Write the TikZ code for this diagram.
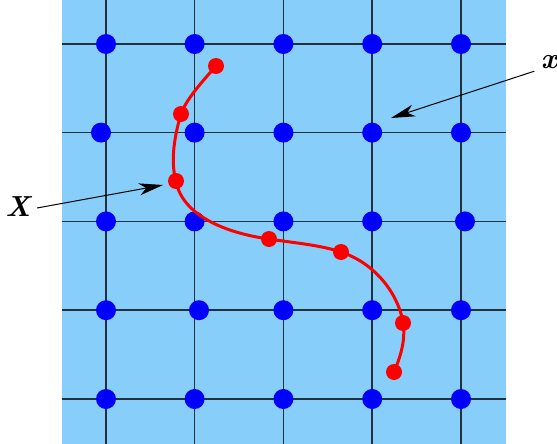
\documentclass[tikz,border=0pt]{standalone}
\usetikzlibrary{arrows.meta}
\definecolor{sky}{HTML}{87CEFA}
\definecolor{gridc}{HTML}{22313D}
\begin{document}
\begin{tikzpicture}[x=1pt,y=-1pt,
  gridline/.style={draw=gridc,line width=1.5pt},
  bdot/.style={circle,fill=blue,inner sep=0pt,minimum size=20pt},
  rdot/.style={circle,fill=red,inner sep=0pt,minimum size=16pt},
  curve/.style={draw=red,line width=3pt},
  lbl/.style={font=\fontsize{29}{29}\selectfont\bfseries\itshape},
  pointer/.style={draw=black,line width=1pt,-{Stealth[length=24pt,width=12pt,inset=7pt]}}]
\useasboundingbox (0,0) rectangle (557,444);
\fill[sky] (61.6,0) rectangle (505.6,444);
\foreach \v in {106,194.6,283.4,372.2,461} {
  \draw[gridline] (\v,0) -- (\v,444);
  \draw[gridline] (61.6,\v-62) -- (505.6,\v-62);
}
% blue dots
\node[bdot] (b11) at (106,44) {};
\node[bdot] (b12) at (194.6,44) {};
\node[bdot] (b13) at (283.4,44) {};
\node[bdot] (b14) at (372.2,44) {};
\node[bdot] (b15) at (461,44) {};
\node[bdot] (b21) at (101,132.6) {};
\node[bdot] (b22) at (194.6,132.6) {};
\node[bdot] (b23) at (283.4,132.6) {};
\node[bdot] (b24) at (372.2,132.6) {};
\node[bdot] (b25) at (461,132.6) {};
\node[bdot] (b31) at (106,221.4) {};
\node[bdot] (b32) at (194.6,221.4) {};
\node[bdot] (b33) at (283.4,221.4) {};
\node[bdot] (b34) at (372.2,221.4) {};
\node[bdot] (b35) at (465,221.4) {};
\node[bdot] (b41) at (106,310.2) {};
\node[bdot] (b42) at (199,310.2) {};
\node[bdot] (b43) at (283.4,310.2) {};
\node[bdot] (b44) at (372.2,310.2) {};
\node[bdot] (b45) at (461,310.2) {};
\node[bdot] (b51) at (106,399) {};
\node[bdot] (b52) at (194.6,399) {};
\node[bdot] (b53) at (283.4,399) {};
\node[bdot] (b54) at (372.2,399) {};
\node[bdot] (b55) at (461,399) {};
% red curve
\coordinate (r1) at (216,66);
\coordinate (r2) at (181,114);
\coordinate (r3) at (176,181);
\coordinate (r4) at (269,239);
\coordinate (r5) at (341,252);
\coordinate (r6) at (403,323);
\coordinate (r7) at (394,372);
\draw[curve] (r1) .. controls (200,84) and (186,100) .. (r2)
  .. controls (175,134) and (170,160) .. (r3)
  .. controls (182,215) and (225,233) .. (r4)
  .. controls (295,243) and (320,245) .. (r5)
  .. controls (380,265) and (400,300) .. (r6)
  .. controls (406,340) and (400,358) .. (r7);
\foreach \i in {1,...,7} { \node[rdot] (rd\i) at (r\i) {}; }
% labels
\node[lbl] (X) at (18,207) {X};
\node[lbl] (x) at (549,62) {x};
\coordinate (xa) at (163,185);
\coordinate (xb) at (391,118);
\draw[pointer] (X.east) ++(3,1) -- (xa);
\draw[pointer] (x.south west) ++(-3,-1) -- (xb);
\end{tikzpicture}
\end{document}
